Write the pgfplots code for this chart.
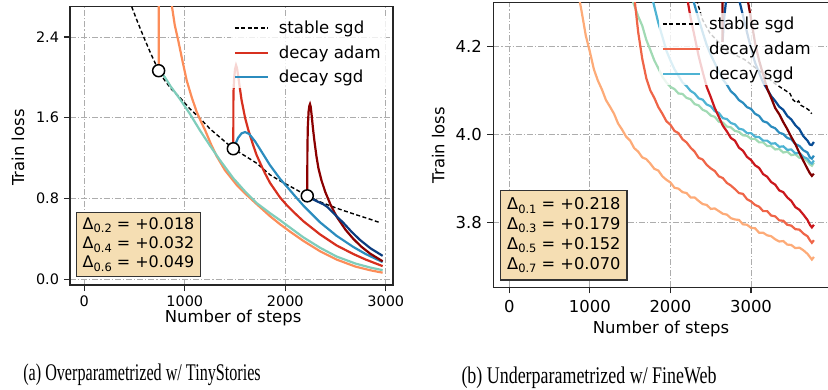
\documentclass[border=0pt]{standalone}
\usepackage{pgfplots}
\pgfplotsset{compat=1.18}
\usepackage{fontspec}
\usepackage{graphicx}
\setmainfont{DejaVu Sans}
\newfontfamily\capfont{Liberation Serif}

\definecolor{lorange}{HTML}{FC8D59}
\definecolor{lred}{HTML}{D7301F}
\definecolor{ldred}{HTML}{8B0000}
\definecolor{lteal}{HTML}{7FCDBB}
\definecolor{lblue}{HTML}{2B8CBE}
\definecolor{ldblue}{HTML}{0B3D80}
\definecolor{rorange1}{HTML}{FDAB78}
\definecolor{rorange2}{HTML}{EF6548}
\definecolor{rred}{HTML}{CB181D}
\definecolor{rdred}{HTML}{7F0000}
\definecolor{rgreen}{HTML}{A1DAB4}
\definecolor{rlblue}{HTML}{4EB3D3}
\definecolor{rblue}{HTML}{2B8CBE}
\definecolor{rdblue}{HTML}{084C94}
\definecolor{wheat}{HTML}{F5DEB3}

\newcommand\sub[1]{\raisebox{-3.4bp}{\fontsize{11.5}{12}\selectfont #1}}
\newcommand\lf{\fontsize{16.6}{18}\selectfont}

\pgfplotsset{
  base/.style={
    scale only axis,
    axis line style={black!85, line width=1.2bp},
    every tick/.style={black!85, line width=1.1bp},
    major tick length=6bp,
    tick align=outside,
    xtick pos=bottom, ytick pos=left,
    grid=major,
    major grid style={black!32, line width=0.8bp, dash pattern=on 6bp off 2bp on 1.2bp off 2bp},
    /pgf/number format/assume math mode=true,
    /pgf/number format/1000 sep={},
    legend cell align=left,
    label style={font=\fontsize{16.5}{18}\selectfont},
  },
  lw/.style={line width=2.2bp},
}

\begin{document}
\begin{tikzpicture}
\useasboundingbox (0,0) rectangle (828bp,-390bp);
\clip (0,0) rectangle (828bp,-390bp);

% ---------------- left panel ----------------
\begin{axis}[base,
  at={(70bp,-6.7bp)}, anchor=north west,
  width=323bp, height=278.3bp,
  xmin=-142, xmax=3072, ymin=-0.057, ymax=2.70,
  xtick={0,1000,2000,3000}, ytick={0,0.8,1.6,2.4},
  yticklabel style={/pgf/number format/fixed, /pgf/number format/fixed zerofill, /pgf/number format/precision=1, xshift=-1.5bp},
  xticklabel style={yshift=-1.5bp},
  ticklabel style={font=\fontsize{14.5}{16}\selectfont},
  xlabel={Number of steps}, ylabel={Train loss},
  xlabel style={at={(axis description cs:0.505,-0.119)}, anchor=center},
  ylabel style={at={(axis description cs:-0.161,0.494)}, anchor=center},
  legend style={at={(axis description cs:0.978,0.9635)}, anchor=north east, draw=none,
    fill=white, fill opacity=0.8, text opacity=1,
    row sep=6.5bp, column sep=8bp, inner xsep=3bp, inner ysep=2bp},
  legend image code/.code={\draw[#1] (0bp,0bp) -- (33bp,0bp);},
]
\addlegendimage{black, line width=1.4bp, dash pattern=on 4bp off 2.5bp}
\addlegendentry{\lf stable sgd}
\addlegendimage{lred, lw}
\addlegendentry{\lf decay adam}
\addlegendimage{lblue, lw}
\addlegendentry{\lf decay sgd}

\addplot[forget plot, black, line width=1.4bp, dash pattern=on 4bp off 2.5bp] coordinates {
(472,2.70)(530,2.55)(587,2.41)(660,2.24)(740,2.066)(800,1.97)(870,1.88)(952,1.80)(1050,1.69)
(1151,1.595)(1251,1.49)(1380,1.38)(1483,1.293)(1582,1.233)(1715,1.15)(1848,1.035)(1948,0.975)
(2050,0.92)(2150,0.865)(2219,0.826)(2350,0.765)(2511,0.704)(2677,0.648)(2843,0.595)(2944,0.56)};

\addplot[forget plot, lorange, lw] coordinates {
(740,2.066)(741,2.5)(743,3.0)(760,3.4)(800,3.6)(840,3.4)(860,3.0)(870,2.72)(900,2.52)(936,2.36)
(980,2.15)(1019,1.97)(1070,1.80)(1118,1.66)(1160,1.565)(1201,1.48)(1260,1.34)(1317,1.22)(1400,1.08)
(1516,0.935)(1600,0.85)(1715,0.745)(1848,0.625)(1948,0.545)(2050,0.47)(2180,0.38)(2350,0.275)
(2511,0.195)(2700,0.125)(2850,0.088)(2969,0.065)};

\addplot[forget plot, lteal, lw] coordinates {
(740,2.066)(770,2.045)(803,2.0)(860,1.91)(952,1.785)(1050,1.64)(1151,1.475)(1250,1.325)(1350,1.18)
(1483,1.0)(1600,0.87)(1715,0.755)(1848,0.655)(1948,0.585)(2050,0.51)(2180,0.415)(2350,0.31)
(2511,0.225)(2700,0.155)(2850,0.115)(2969,0.09)};

\addplot[forget plot, lred, lw] coordinates {
(1483,1.293)(1484,1.83)(1490,1.97)(1500,2.08)(1510,2.12)(1520,2.09)(1535,1.99)(1550,1.88)(1566,1.77)
(1600,1.60)(1632,1.48)(1680,1.33)(1715,1.23)(1760,1.13)(1798,1.05)(1848,0.955)(1948,0.81)(2014,0.735)
(2100,0.65)(2180,0.575)(2345,0.445)(2511,0.335)(2677,0.25)(2800,0.195)(2969,0.13)};

\addplot[forget plot, lblue, lw] coordinates {
(1483,1.293)(1500,1.33)(1530,1.40)(1565,1.445)(1600,1.458)(1640,1.44)(1700,1.365)(1748,1.29)
(1848,1.13)(1948,0.995)(2014,0.92)(2100,0.82)(2180,0.73)(2345,0.565)(2511,0.43)(2677,0.32)
(2800,0.25)(2969,0.17)};

\addplot[forget plot, ldred, lw] coordinates {
(2219,0.826)(2220,1.25)(2224,1.50)(2232,1.66)(2240,1.72)(2246,1.735)(2253,1.71)(2262,1.63)(2275,1.50)
(2290,1.37)(2310,1.22)(2330,1.10)(2360,0.98)(2400,0.86)(2450,0.74)(2511,0.62)(2600,0.49)(2677,0.40)
(2760,0.32)(2843,0.255)(2969,0.178)};

\addplot[forget plot, ldblue, lw] coordinates {
(2219,0.826)(2260,0.80)(2320,0.77)(2380,0.742)(2420,0.715)(2470,0.665)(2530,0.605)(2577,0.56)
(2660,0.47)(2743,0.39)(2850,0.305)(2969,0.232)};

\addplot[forget plot, only marks, mark=*, mark size=6bp, mark options={fill=white, draw=black, line width=1.5bp}]
coordinates {(740,2.066)(1483,1.293)(2219,0.826)};

\node[anchor=south west, fill=wheat, draw=black!80, line width=1.4bp, align=left,
  font=\fontsize{16}{19.2}\selectfont, inner xsep=6bp, inner ysep=5bp]
  at (rel axis cs:0.0186,0.0287)
  {Δ\sub{0.2} = +0.018\\Δ\sub{0.4} = +0.032\\Δ\sub{0.6} = +0.049};
\end{axis}

% ---------------- right panel ----------------
\begin{axis}[base,
  at={(493.3bp,-2.3bp)}, anchor=north west,
  width=336.3bp, height=285bp,
  xmin=-198, xmax=3975, ymin=3.653, ymax=4.30,
  xtick={0,1000,2000,3000}, ytick={3.8,4.0,4.2},
  yticklabel style={/pgf/number format/fixed, /pgf/number format/fixed zerofill, /pgf/number format/precision=1, xshift=-2bp},
  xticklabel style={yshift=-3.5bp},
  ticklabel style={font=\fontsize{16.5}{18}\selectfont},
  xlabel={Number of steps}, ylabel={Train loss},
  xlabel style={at={(axis description cs:0.4987,-0.146)}, anchor=center},
  ylabel style={at={(axis description cs:-0.164,0.499)}, anchor=center},
  legend style={at={(axis description cs:0.9596,0.963)}, anchor=north east, draw=none,
    fill=white, fill opacity=0.8, text opacity=1,
    row sep=7bp, column sep=6bp, inner xsep=3bp, inner ysep=2bp},
  legend image code/.code={\draw[#1] (0bp,0bp) -- (37bp,0bp);},
]
\addlegendimage{black, line width=1.4bp, dash pattern=on 4bp off 2.5bp}
\addlegendentry{\lf stable sgd}
\addlegendimage{rorange2, lw}
\addlegendentry{\lf decay adam}
\addlegendimage{rlblue, lw}
\addlegendentry{\lf decay sgd}

\addplot[forget plot, black, line width=1.4bp, dash pattern=on 4bp off 2.5bp] coordinates {
(2300,4.32)(2400,4.26)(2490,4.23)(2700,4.19)(2920,4.17)(3100,4.145)(3300,4.115)(3483,4.093)
(3524,4.078)(3545,4.075)(3565,4.072)(3590,4.076)(3620,4.066)(3660,4.062)(3690,4.059)(3720,4.055)(3753,4.047)};

\addplot[forget plot, rgreen, lw] table {
1520 4.33
1538 4.30
1600 4.268
1650 4.247
1700 4.215
1750 4.192
1800 4.168
1850 4.150
1900 4.131
1950 4.118
2000 4.108
2050 4.103
2100 4.093
2150 4.092
2200 4.083
2250 4.080
2300 4.069
2350 4.066
2400 4.056
2450 4.052
2500 4.043
2550 4.040
2600 4.029
2650 4.027
2700 4.018
2750 4.016
2800 4.008
2850 4.006
2900 3.998
2950 3.997
3000 3.990
3050 3.990
3100 3.982
3150 3.982
3200 3.974
3250 3.974
3300 3.966
3350 3.967
3400 3.959
3450 3.961
3500 3.953
3550 3.955
3600 3.947
3650 3.947
3700 3.939
3730 3.932
3755 3.929
3780 3.936
};

\addplot[forget plot, rlblue, lw] table {
1770 4.33
1787 4.30
1850 4.253
1900 4.222
1950 4.190
2000 4.168
2050 4.148
2100 4.133
2150 4.118
2200 4.110
2250 4.099
2300 4.093
2350 4.082
2400 4.079
2450 4.068
2500 4.064
2550 4.053
2600 4.049
2650 4.037
2700 4.035
2750 4.026
2800 4.023
2850 4.013
2900 4.011
2950 4.003
3000 4.003
3050 3.995
3100 3.994
3150 3.986
3200 3.986
3250 3.979
3300 3.980
3350 3.972
3400 3.973
3450 3.965
3500 3.966
3550 3.957
3600 3.958
3650 3.949
3700 3.945
3730 3.937
3755 3.934
3780 3.941
};

\addplot[forget plot, rblue, lw] table {
2270 4.33
2290 4.30
2350 4.262
2400 4.232
2450 4.203
2500 4.181
2550 4.162
2600 4.143
2650 4.125
2700 4.113
2750 4.098
2800 4.090
2850 4.078
2900 4.072
2950 4.062
3000 4.058
3050 4.047
3100 4.042
3150 4.030
3200 4.027
3250 4.018
3300 4.014
3350 4.004
3400 4.001
3450 3.992
3500 3.989
3550 3.978
3600 3.974
3650 3.964
3700 3.959
3730 3.948
3755 3.945
3780 3.952
};

\addplot[forget plot, rdblue, lw] table {
2646 4.21
2670 4.27
2700 4.32
2780 4.345
2860 4.30
2950 4.232
3000 4.195
3050 4.163
3100 4.140
3150 4.118
3200 4.103
3250 4.087
3300 4.076
3350 4.063
3400 4.056
3450 4.042
3500 4.034
3550 4.021
3600 4.012
3650 3.996
3700 3.986
3730 3.977
3755 3.976
3780 3.983
};

\addplot[forget plot, rorange1, lw] table {
850 4.34
877 4.30
900 4.277
950 4.224
1000 4.188
1050 4.148
1100 4.122
1150 4.102
1200 4.078
1250 4.063
1300 4.047
1350 4.025
1400 4.011
1450 3.995
1500 3.986
1550 3.969
1600 3.961
1650 3.948
1700 3.944
1750 3.934
1800 3.922
1850 3.918
1900 3.905
1950 3.897
2000 3.891
2050 3.879
2100 3.877
2150 3.869
2200 3.867
2250 3.857
2300 3.857
2350 3.849
2400 3.842
2450 3.840
2500 3.831
2550 3.832
2600 3.826
2650 3.820
2700 3.818
2750 3.810
2800 3.807
2850 3.806
2900 3.796
2950 3.795
3000 3.788
3050 3.787
3100 3.777
3150 3.777
3200 3.771
3250 3.769
3300 3.762
3350 3.757
3400 3.758
3450 3.750
3500 3.749
3550 3.742
3600 3.743
3650 3.737
3700 3.729
3730 3.722
3755 3.716
3780 3.722
};

\addplot[forget plot, rorange2, lw] table {
1540 4.33
1559 4.30
1600 4.232
1650 4.172
1700 4.128
1750 4.100
1800 4.083
1850 4.062
1900 4.047
1950 4.030
2000 4.022
2050 4.008
2100 4.003
2150 3.989
2200 3.982
2250 3.970
2300 3.961
2350 3.947
2400 3.943
2450 3.931
2500 3.923
2550 3.917
2600 3.905
2650 3.901
2700 3.890
2750 3.884
2800 3.876
2850 3.867
2900 3.865
2950 3.853
3000 3.848
3050 3.840
3100 3.836
3150 3.826
3200 3.826
3250 3.816
3300 3.814
3350 3.805
3400 3.804
3450 3.795
3500 3.793
3550 3.785
3600 3.784
3650 3.775
3700 3.769
3730 3.760
3755 3.754
3780 3.760
};

\addplot[forget plot, rred, lw] table {
2200 4.36
2217 4.30
2250 4.265
2300 4.222
2350 4.178
2400 4.142
2450 4.108
2500 4.085
2550 4.060
2600 4.040
2650 4.020
2700 4.007
2750 3.992
2800 3.986
2850 3.970
2900 3.963
2950 3.949
3000 3.942
3050 3.930
3100 3.924
3150 3.910
3200 3.904
3250 3.892
3300 3.886
3350 3.873
3400 3.869
3450 3.857
3500 3.849
3550 3.835
3600 3.829
3650 3.818
3700 3.806
3730 3.795
3755 3.789
3780 3.795
};

\addplot[forget plot, rdred, lw] table {
2646 4.21
2648 4.40
2700 4.60
2900 4.50
2964 4.30
3000 4.262
3050 4.208
3100 4.168
3150 4.136
3200 4.104
3250 4.083
3300 4.060
3350 4.046
3400 4.028
3450 4.012
3500 3.994
3550 3.978
3600 3.958
3650 3.940
3700 3.922
3730 3.912
3755 3.906
3780 3.911
};

\node[anchor=south west, fill=wheat, draw=black!80, line width=1.4bp, align=left,
  font=\fontsize{16.3}{20}\selectfont, inner xsep=6.5bp, inner ysep=7bp]
  at (rel axis cs:0.0199,0.0232)
  {Δ\sub{0.1} = +0.218\\Δ\sub{0.3} = +0.179\\Δ\sub{0.5} = +0.152\\Δ\sub{0.7} = +0.070};
\end{axis}

% captions
\node[anchor=base, font=\capfont\fontsize{24}{26}\selectfont] at (142bp,-380bp)
  {\scalebox{0.675}[1]{(a) Overparametrized w/ TinyStories}};
\node[anchor=base, font=\capfont\fontsize{24}{26}\selectfont] at (589bp,-383.5bp)
  {\scalebox{0.75}[1]{(b) Underparametrized w/ FineWeb}};
\end{tikzpicture}
\end{document}
